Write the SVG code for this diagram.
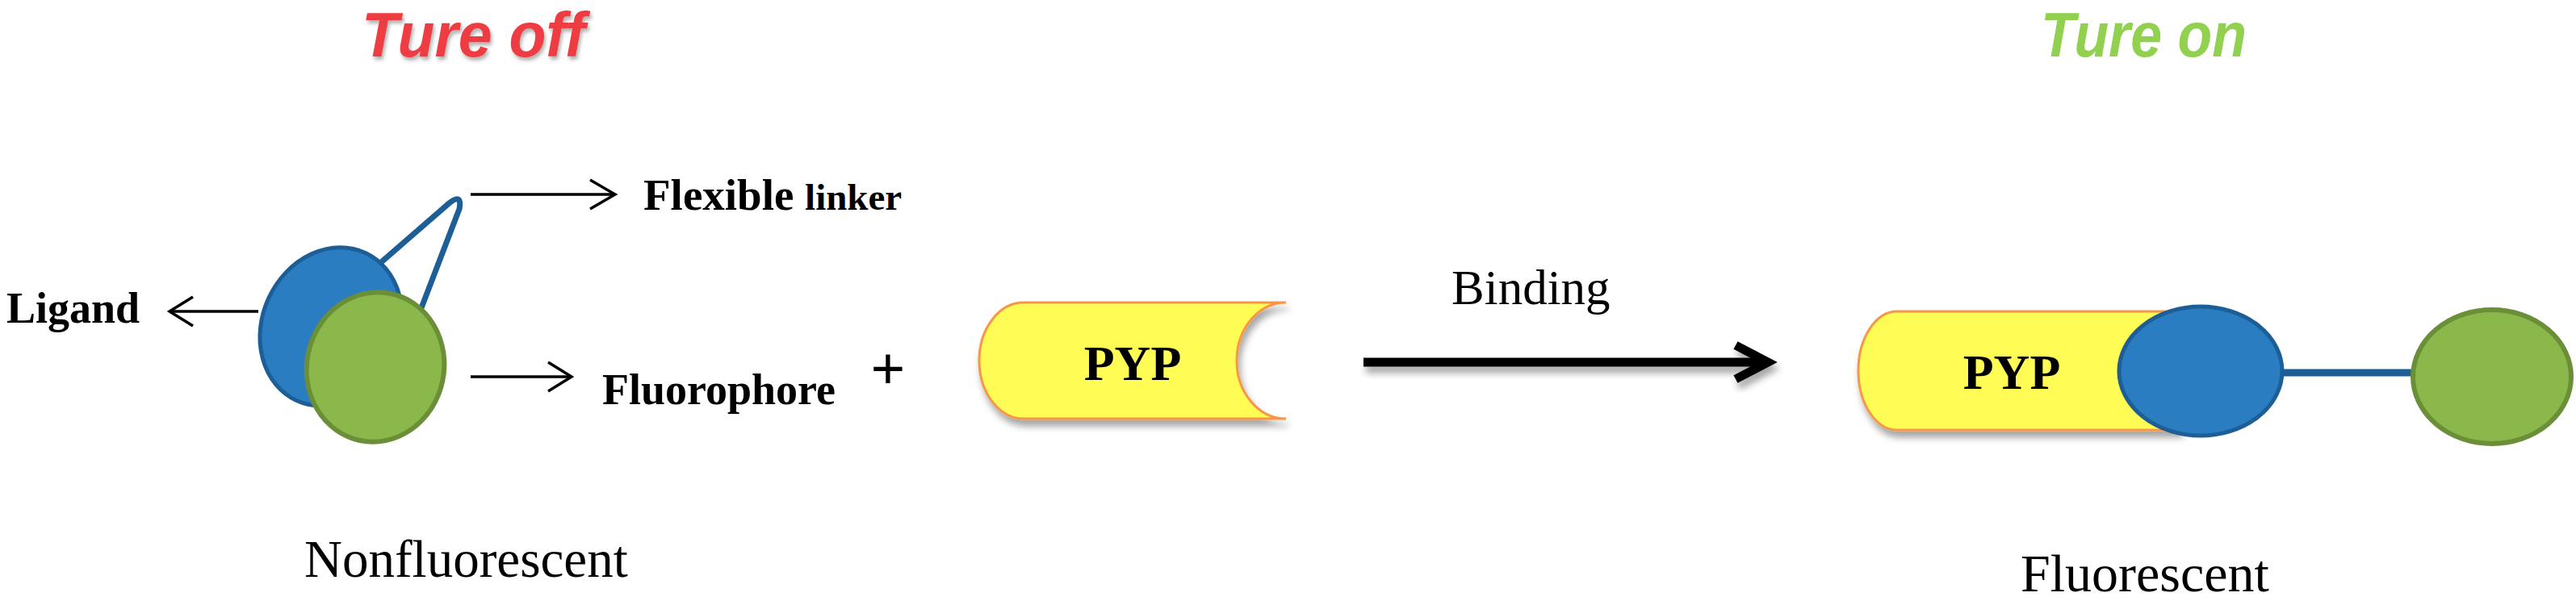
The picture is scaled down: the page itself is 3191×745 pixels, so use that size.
<svg xmlns="http://www.w3.org/2000/svg" width="3191" height="745" viewBox="0 0 3191 745">
<style>
.serif{font-family:"Liberation Serif","Times New Roman",serif;fill:#000}
.b{font-weight:bold}
.title{font-family:"Liberation Sans",Arial,sans-serif;font-weight:bold;font-style:italic;font-size:78px}
.thin{stroke:#000;stroke-width:3.5;fill:none}
.blue{fill:#2A7DC0;stroke:#1D5E96;stroke-width:5}
.green{fill:#8AB84A;stroke:#6A8F38;stroke-width:6}
.pyp{fill:#FFFC55;stroke:#F79646;stroke-width:3}
.link{fill:none;stroke:#1D5E96;stroke-width:7;stroke-linejoin:round}
</style>
<defs>
<filter id="sh" x="-20%" y="-30%" width="140%" height="170%">
<feDropShadow dx="3" dy="8" stdDeviation="4" flood-color="#000" flood-opacity="0.35"/>
</filter>
<filter id="tsh" x="-10%" y="-20%" width="120%" height="150%">
<feDropShadow dx="2" dy="4" stdDeviation="2" flood-color="#000" flood-opacity="0.3"/>
</filter>
</defs>
<rect width="3191" height="745" fill="#fff"/>

<g id="title-off"><text class="title" x="448" y="70" fill="#EE3D42" textLength="277" lengthAdjust="spacingAndGlyphs" filter="url(#tsh)">Ture off</text></g>
<g id="title-on"><text class="title" x="2528" y="70" fill="#92D050" textLength="255" lengthAdjust="spacingAndGlyphs">Ture on</text></g>

<g id="probe-off">
<path class="link" d="M 455 340 L 555 253 Q 573 238 569 259 L 518 392"/>
<ellipse class="blue" cx="410" cy="405" rx="85" ry="101" transform="rotate(25 410 405)"/>
<ellipse class="green" cx="465" cy="455" rx="85" ry="93" transform="rotate(12 465 455)"/>
</g>

<g id="connectors">
<line class="thin" x1="320" y1="386" x2="211" y2="386"/>
<polyline class="thin" points="239,368 210,386 239,404"/>
<line class="thin" x1="583" y1="241" x2="761" y2="241"/>
<polyline class="thin" points="731,223 762,241 731,259"/>
<line class="thin" x1="583" y1="467" x2="707" y2="467"/>
<polyline class="thin" points="679,449 708,467 679,485"/>
<g filter="url(#sh)">
<line x1="1689" y1="449" x2="2186" y2="449" stroke="#000" stroke-width="11"/>
<polyline points="2150,428 2190,449 2150,470" fill="none" stroke="#000" stroke-width="11" stroke-linejoin="miter"/>
</g>
<line x1="2825" y1="462" x2="2990" y2="462" stroke="#1D5E96" stroke-width="9"/>
</g>

<g id="label-ligand"><text class="serif b" x="8" y="400" font-size="54">Ligand</text></g>
<g id="label-linker"><text class="serif b" x="797" y="260" font-size="55">Flexible <tspan font-size="47">linker</tspan></text></g>
<g id="label-fluorophore"><text class="serif b" x="746" y="501" font-size="54">Fluorophore</text></g>
<g id="plus"><text class="serif b" x="1100" y="483" font-size="76" text-anchor="middle">+</text></g>

<g id="pyp-free">
<path class="pyp" filter="url(#sh)" d="M 1268 375 L 1593 375 A 61 72 0 0 0 1593 519 L 1268 519 A 55 72 0 0 1 1268 375 Z"/>
<text class="serif b" x="1403" y="471" font-size="62" text-anchor="middle">PYP</text>
</g>

<g id="label-binding"><text class="serif" x="1798" y="377" font-size="61">Binding</text></g>

<g id="complex-on">
<path class="pyp" filter="url(#sh)" d="M 2350 386 L 2700 386 L 2700 533 L 2350 533 A 48 73.5 0 0 1 2350 386 Z"/>
<text class="serif b" x="2492" y="482" font-size="62" text-anchor="middle">PYP</text>
<ellipse class="blue" cx="2726" cy="460" rx="101" ry="80"/>
<ellipse class="green" cx="3087" cy="467" rx="98" ry="83"/>
</g>

<g id="label-nonfluorescent"><text class="serif" x="377" y="715" font-size="65">Nonfluorescent</text></g>
<g id="label-fluorescent"><text class="serif" x="2503" y="733" font-size="66">Fluorescent</text></g>
</svg>
